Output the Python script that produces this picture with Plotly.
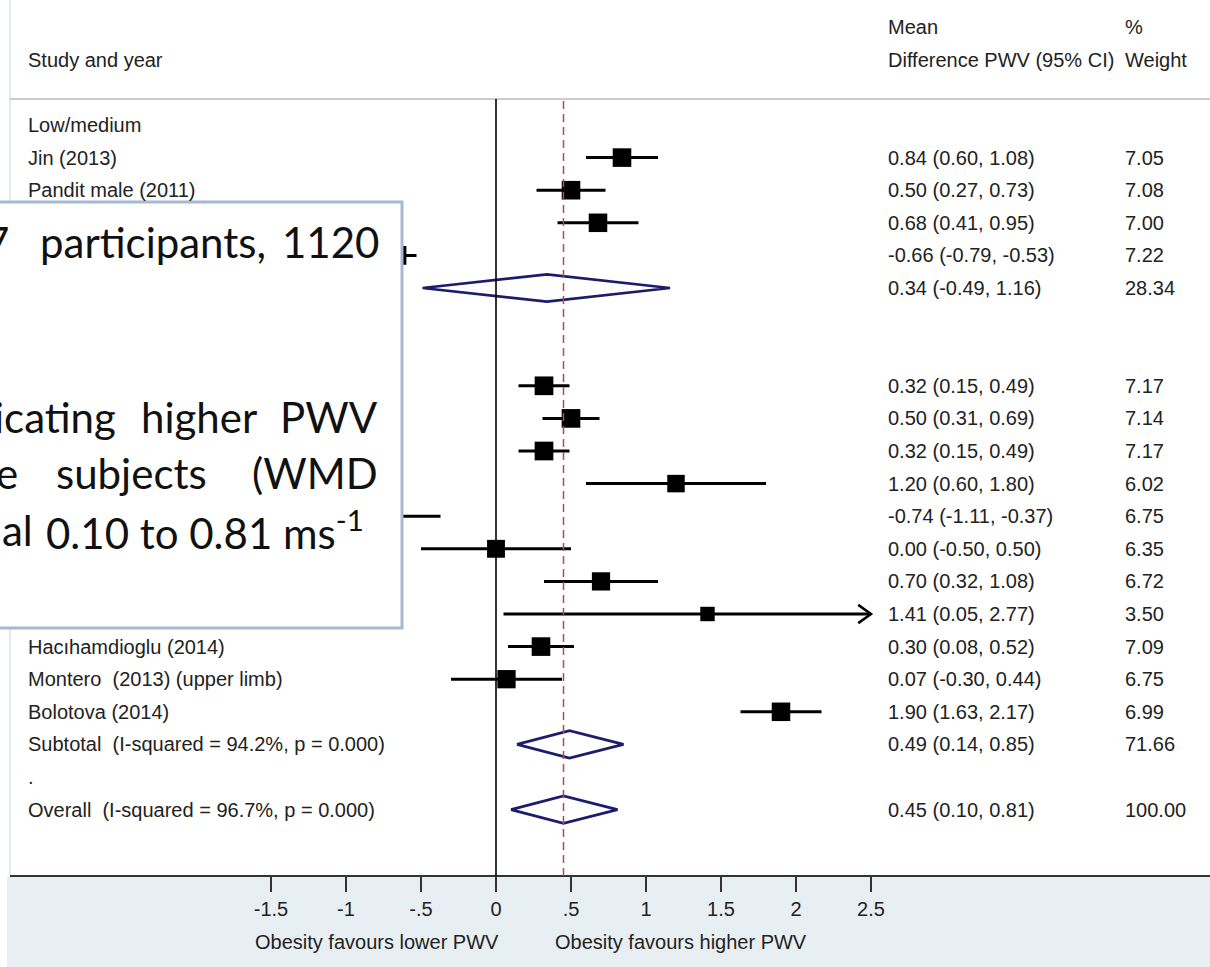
import plotly.graph_objects as go

W, H = 1210, 967

# ---------------- data ----------------
row_labels = [
    "Low/medium", "Jin (2013)", "Pandit male (2011)", "", "", "",
    "", "",
    "", "", "", "", "", "", "", "",
    "Hacıhamdioglu (2014)", "Montero  (2013) (upper limb)", "Bolotova (2014)",
    "Subtotal  (I-squared = 94.2%, p = 0.000)", ".",
    "Overall  (I-squared = 96.7%, p = 0.000)",
]
row_kind = [
    "group", "study", "study", "study", "study", "pooled",
    "blank", "group",
    "study", "study", "study", "study", "study", "study", "study", "study",
    "study", "study", "study",
    "pooled", "blank",
    "pooled",
]
est = [None, 0.84, 0.50, 0.68, -0.66, 0.34,
       None, None,
       0.32, 0.50, 0.32, 1.20, -0.74, 0.00, 0.70, 1.41,
       0.30, 0.07, 1.90,
       0.49, None,
       0.45]
lo = [None, 0.60, 0.27, 0.41, -0.79, -0.49,
      None, None,
      0.15, 0.31, 0.15, 0.60, -1.11, -0.50, 0.32, 0.05,
      0.08, -0.30, 1.63,
      0.14, None,
      0.10]
hi = [None, 1.08, 0.73, 0.95, -0.53, 1.16,
      None, None,
      0.49, 0.69, 0.49, 1.80, -0.37, 0.50, 1.08, 2.77,
      0.52, 0.44, 2.17,
      0.85, None,
      0.81]
weight = [None, 7.05, 7.08, 7.00, 7.22, 28.34,
          None, None,
          7.17, 7.14, 7.17, 6.02, 6.75, 6.35, 6.72, 3.50,
          7.09, 6.75, 6.99,
          71.66, None,
          100.00]

tick_vals = [-1.5, -1, -0.5, 0, 0.5, 1, 1.5, 2, 2.5]
tick_text = ["-1.5", "-1", "-.5", "0", ".5", "1", "1.5", "2", "2.5"]
null_value = 0
overall_est = est[-1]

# ---------------- layout geometry (pixels) ----------------
X0_PX, PX_PER_UNIT = 496, 150
ROW0_PX, ROW_PX = 125, 32.6
AXIS_PX = 876
HEAD_PX = 99
x_clip = max(tick_vals)

def px(p):   # horizontal pixel -> paper
    return p / W

def py(p):   # vertical pixel -> paper
    return 1 - p / H

x_range = [-X0_PX / PX_PER_UNIT, (W - X0_PX) / PX_PER_UNIT]
y_range = [(AXIS_PX - ROW0_PX) / ROW_PX, -ROW0_PX / ROW_PX]

TXT = "#222222"
FONT = "Liberation Sans, Arial, Helvetica, sans-serif"
FS = 20
NAVY = "#1c1c6e"

fig = go.Figure()

rows = list(range(len(row_labels)))

# CI lines for studies
cx, cy = [], []
ax_, ay_ = [], []
for k in rows:
    if row_kind[k] != "study":
        continue
    cx += [lo[k], min(hi[k], x_clip), None]
    cy += [k, k, None]
    if hi[k] > x_clip:
        ax_ += [x_clip - 0.085, x_clip, x_clip - 0.085, None]
        ay_ += [k - 0.28, k, k + 0.28, None]
fig.add_trace(go.Scatter(x=cx, y=cy, mode="lines",
                         line=dict(color="black", width=3), hoverinfo="skip"))
if ax_:
    fig.add_trace(go.Scatter(x=ax_, y=ay_, mode="lines",
                             line=dict(color="black", width=2.5), hoverinfo="skip"))

# squares (area grows with weight)
sx = [est[k] for k in rows if row_kind[k] == "study"]
sy = [k for k in rows if row_kind[k] == "study"]
ss = [4.5 + 5.3 * weight[k] ** 0.5 for k in rows if row_kind[k] == "study"]
fig.add_trace(go.Scatter(x=sx, y=sy, mode="markers",
                         marker=dict(symbol="square", size=ss, color="black",
                                     opacity=1, line=dict(width=0)),
                         hoverinfo="skip"))

# diamonds
dx, dy = [], []
for k in rows:
    if row_kind[k] != "pooled":
        continue
    dx += [lo[k], est[k], hi[k], est[k], lo[k], None]
    dy += [k, k - 0.42, k, k + 0.42, k, None]
fig.add_trace(go.Scatter(x=dx, y=dy, mode="lines",
                         line=dict(color=NAVY, width=2.7), hoverinfo="skip"))

shapes = []
# bottom shaded panel
shapes.append(dict(type="rect", xref="paper", yref="paper",
                   x0=px(7), x1=1, y0=0, y1=py(AXIS_PX),
                   fillcolor="#e8eff2", line=dict(width=0), layer="below"))
# left faint border
shapes.append(dict(type="line", xref="paper", yref="paper",
                   x0=px(10), x1=px(10), y0=py(0), y1=py(AXIS_PX),
                   line=dict(color="#dbe4ea", width=1.5)))
# header divider
shapes.append(dict(type="line", xref="paper", yref="paper",
                   x0=px(10), x1=1, y0=py(HEAD_PX), y1=py(HEAD_PX),
                   line=dict(color="#cccccc", width=2)))
# axis line
shapes.append(dict(type="line", xref="paper", yref="paper",
                   x0=px(10), x1=1, y0=py(AXIS_PX), y1=py(AXIS_PX),
                   line=dict(color="#333333", width=2)))
# null line
shapes.append(dict(type="line", xref="x", yref="paper",
                   x0=null_value, x1=null_value, y0=py(AXIS_PX), y1=py(HEAD_PX),
                   line=dict(color="black", width=1.6)))
# overall estimate dashed line
shapes.append(dict(type="line", xref="x", yref="paper",
                   x0=overall_est, x1=overall_est, y0=py(AXIS_PX), y1=py(HEAD_PX),
                   line=dict(color="#b34a50", width=1.5, dash="8px,5px")))
# overlay text box
shapes.append(dict(type="rect", xref="paper", yref="paper",
                   x0=px(-10), x1=px(402), y0=py(628), y1=py(202),
                   fillcolor="white", line=dict(color="#a3bad0", width=3),
                   layer="above"))

ann = []

def txt(x, y, s, xanchor="left", yref="paper", size=FS, color=TXT, family=FONT):
    ann.append(dict(x=x, y=y, xref="paper", yref=yref, text=s, showarrow=False,
                    xanchor=xanchor, yanchor="middle",
                    font=dict(size=size, color=color, family=family)))

# headers
txt(px(26), py(60), "Study and year")
txt(px(886), py(27), "Mean")
txt(px(886), py(60), "Difference PWV (95% CI)")
txt(px(1123), py(27), "%")
txt(px(1123), py(60), "Weight")

# row texts
for k in rows:
    if row_labels[k]:
        txt(px(26), k, row_labels[k], yref="y")
    if est[k] is not None:
        txt(px(886), k, f"{est[k]:.2f} ({lo[k]:.2f}, {hi[k]:.2f})", yref="y")
        txt(px(1123), k, f"{weight[k]:.2f}", yref="y")

# favours labels
txt(px(501), py(942), "Obesity favours lower PWV", xanchor="right")
txt(px(553), py(942), "Obesity favours higher PWV", xanchor="left")

# overlay box text (partially cut off on the left)
BF = "Lato, 'Open Sans', sans-serif"
BS = 42
BC = "#111111"
box_words = [
    ("7", 11, 242, "right"), ("participants,", 38, 242, "left"), ("1120", 381, 242, "right"),
    ("icating", 118, 417, "right"), ("higher", 139, 417, "left"), ("PWV", 380, 417, "right"),
    ("e", 20, 473, "right"), ("subjects", 54, 473, "left"), ("(WMD", 380, 473, "right"),
    ("al", 35, 530, "right"), ("0.10 to 0.81 ms<sup>-1</sup>", 44, 530, "left"),
]
for w_, xp, yp, anc in box_words:
    txt(px(xp), py(yp), w_, xanchor=anc, size=BS, color=BC, family=BF)

fig.update_layout(
    width=W, height=H, autosize=False, template="none",
    margin=dict(l=0, r=0, t=0, b=0, pad=0),
    paper_bgcolor="white", plot_bgcolor="white",
    showlegend=False,
    xaxis=dict(range=x_range, domain=[0, 1], tickvals=tick_vals, ticktext=tick_text,
               ticks="outside", ticklen=15, tickwidth=2, tickcolor="#333333",
               tickfont=dict(size=FS, color=TXT, family=FONT),
               showgrid=False, zeroline=False, showline=False, automargin=False,
               fixedrange=True),
    yaxis=dict(range=y_range, domain=[py(AXIS_PX), 1], visible=False,
               showgrid=False, zeroline=False, automargin=False, fixedrange=True),
    shapes=shapes, annotations=ann,
)

fig.write_html("out.html", config={"displayModeBar": False},
               post_script="document.body.style.margin='0px';document.body.style.padding='0px';")
